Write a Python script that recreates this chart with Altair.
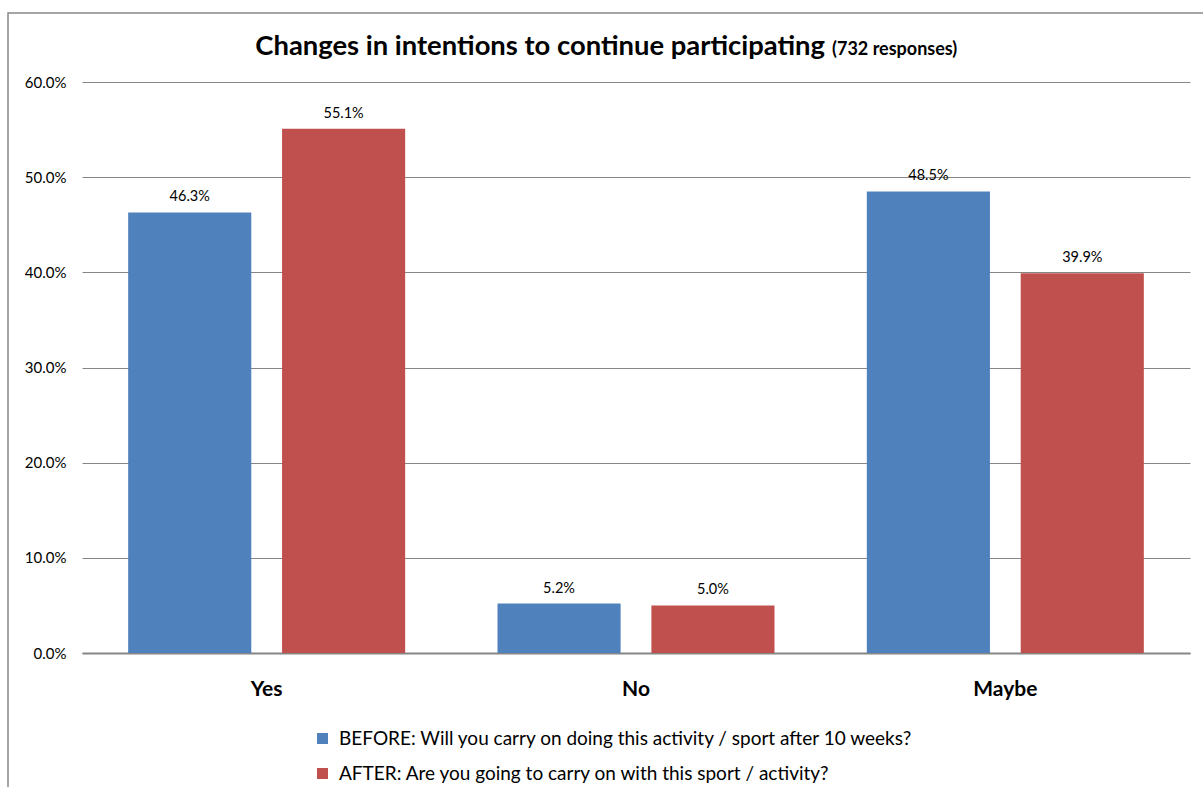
import altair as alt
import pandas as pd

categories = ["Yes", "No", "Maybe"]
series = [
    "BEFORE: Will you carry on doing this activity / sport after 10 weeks?",
    "AFTER: Are you going to carry on with this sport / activity?",
]
before_values = [46.3, 5.2, 48.5]
after_values = [55.1, 5.0, 39.9]
y_ticks = [0, 10, 20, 30, 40, 50, 60]
colors = ["#4F81BD", "#C0504D"]
title_main = "Changes in intentions to continue participating"
title_note = "(732 responses)"

rows = []
for c, b, a in zip(categories, before_values, after_values):
    rows.append({"cat": c, "series": series[0], "value": b})
    rows.append({"cat": c, "series": series[1], "value": a})
df = pd.DataFrame(rows)
df["label"] = df["value"].map(lambda v: f"{v:.1f}%")

FONT = "Lato"
W, H = 1108, 571
LEFT, TOP = 82, 82

base = alt.Chart(df).encode(
    x=alt.X(
        "cat:N",
        sort=categories,
        scale=alt.Scale(paddingInner=0.25, paddingOuter=0.125),
        axis=alt.Axis(
            title=None, labelAngle=0, labelFontSize=21, labelFontWeight="bold",
            labelFont=FONT, labelColor="#000000", labelPadding=25,
            ticks=False, tickSize=0, domain=True, domainColor="#868686", domainWidth=2,
            grid=False,
        ),
    ),
    xOffset=alt.XOffset("series:N", sort=series,
                        scale=alt.Scale(paddingInner=0.2, paddingOuter=0)),
)

bars = base.mark_bar().encode(
    y=alt.Y(
        "value:Q",
        scale=alt.Scale(domain=[0, 60], nice=False),
        axis=alt.Axis(
            title=None, values=y_ticks,
            labelExpr="format(datum.value, '.1f') + '%'",
            labelFont=FONT, labelFontSize=15, labelColor="#000000",
            labelPadding=16, ticks=False, tickSize=0, domain=False,
            grid=True, gridColor="#868686", gridWidth=1,
        ),
    ),
    color=alt.Color(
        "series:N",
        sort=series,
        scale=alt.Scale(domain=series, range=colors),
        legend=alt.Legend(
            title=None, orient="none", legendX=231, legendY=647,
            direction="vertical", symbolType="square", symbolSize=121,
            symbolStrokeWidth=0, labelFont=FONT, labelFontSize=19,
            labelColor="#000000", labelOffset=7, rowPadding=15,
            labelLimit=900,
        ),
    ),
)

labels = base.mark_text(baseline="bottom", dy=-8, fontSize=14.5, font=FONT,
                        color="#000000").encode(
    y=alt.Y("value:Q"),
    text="label:N",
)

title_a = alt.Chart(pd.DataFrame({"t": [title_main]})).mark_text(
    align="right", baseline="alphabetic", fontSize=27.4, fontWeight="bold",
    font=FONT, color="#000000",
).encode(x=alt.value(825 - LEFT), y=alt.value(55 - TOP), text="t:N")

title_b = alt.Chart(pd.DataFrame({"t": [title_note]})).mark_text(
    align="left", baseline="alphabetic", fontSize=18, fontWeight="bold",
    font=FONT, color="#000000",
).encode(x=alt.value(832 - LEFT), y=alt.value(55 - TOP), text="t:N")

frame = alt.Chart(pd.DataFrame({"f": [1]})).mark_rect(
    fill=None, stroke="#888888", strokeWidth=1.5,
).encode(
    x=alt.value(8 - LEFT), y=alt.value(13 - TOP),
    x2=alt.value(1215 - LEFT), y2=alt.value(800 - TOP),
)

chart = alt.layer(frame, bars, labels, title_a, title_b).properties(
    width=W, height=H,
    autosize=alt.AutoSizeParams(type="none"),
    padding={"left": LEFT, "top": TOP, "right": 1203 - LEFT - W, "bottom": 787 - TOP - H},
).configure(background="white", view=alt.ViewConfig(stroke=None))

chart.save("out.html", embed_options={"renderer": "svg", "actions": False})
